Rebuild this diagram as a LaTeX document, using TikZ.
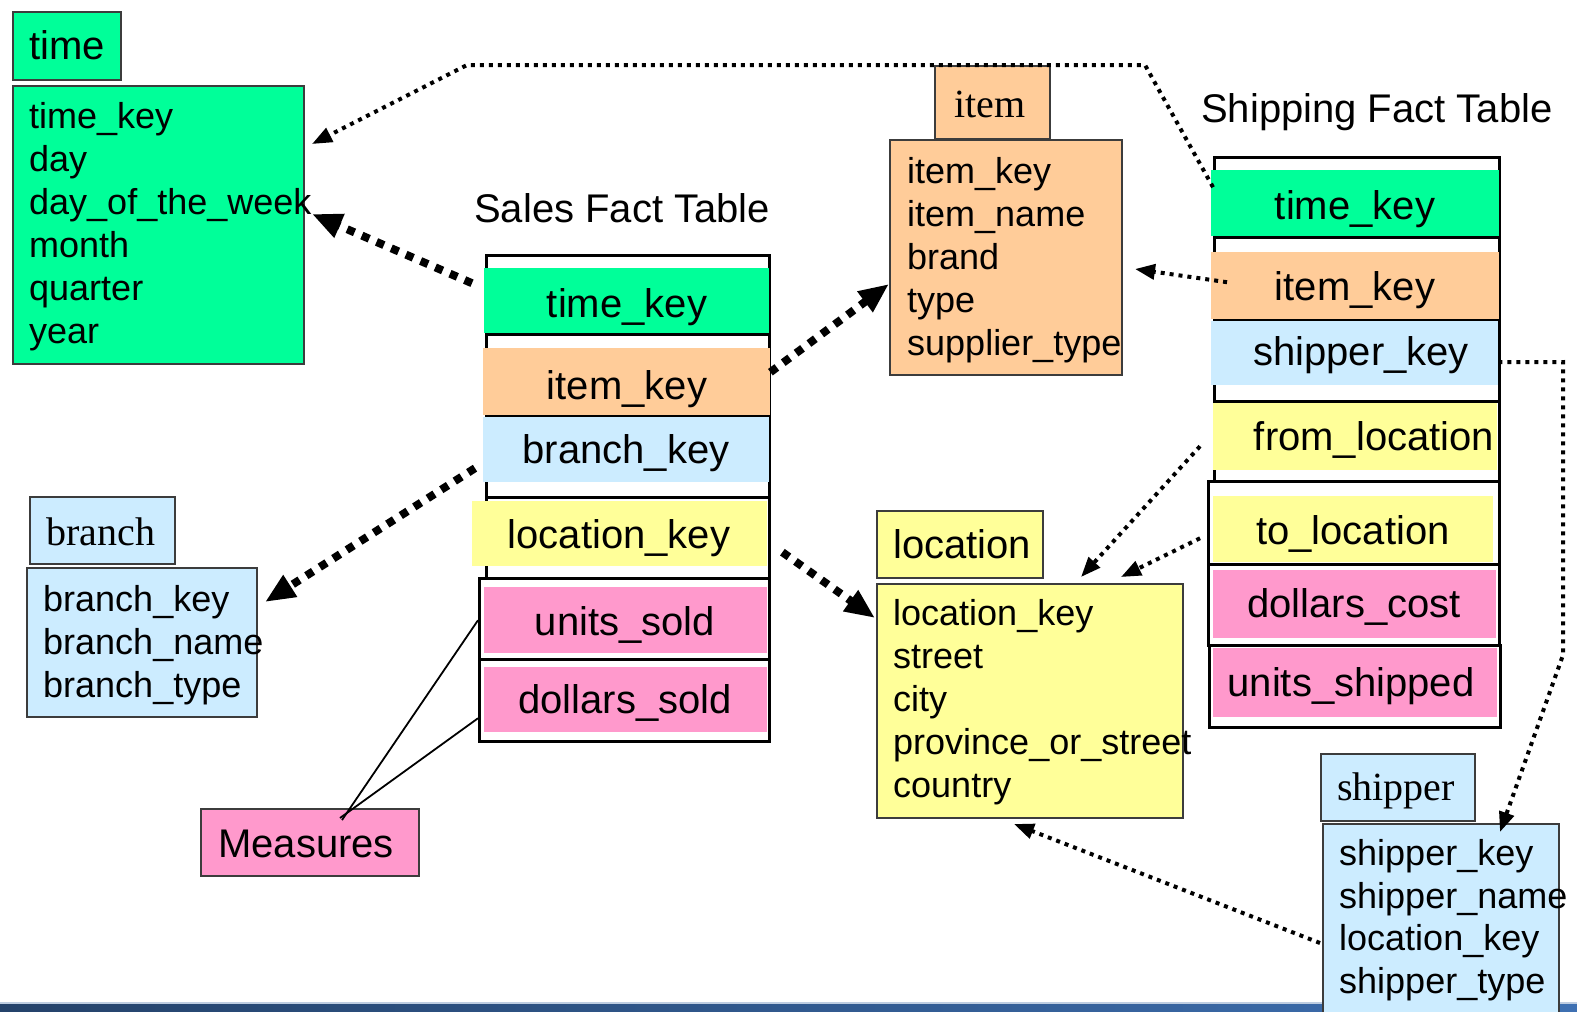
\documentclass[tikz,border=0pt]{standalone}
\usepackage{fontspec}
\setmainfont{Liberation Sans}
\newfontfamily\serifhd{Liberation Serif}
\usetikzlibrary{arrows.meta,calc}
\definecolor{cgreen}{RGB}{0,255,153}
\definecolor{corange}{RGB}{255,204,153}
\definecolor{cblue}{RGB}{204,236,255}
\definecolor{cyellow}{RGB}{255,255,153}
\definecolor{cpink}{RGB}{255,153,204}
\definecolor{boxline}{RGB}{60,60,60}
\definecolor{barL}{RGB}{36,66,106}
\definecolor{barR}{RGB}{62,112,178}
\definecolor{barTop}{RGB}{190,205,225}
\begin{document}
\begin{tikzpicture}[x=1pt,y=-1pt,
  dimbox/.style={draw=boxline,line width=2pt,inner sep=0pt,anchor=north west,rectangle},
  ftbl/.style={draw=black,line width=2.5pt,fill=white,inner sep=0pt,anchor=north west,rectangle},
  fillrow/.style={draw=none,inner sep=0pt,anchor=north west,rectangle},
  lst/.style={anchor=base west,inner sep=0pt,align=left,font=\fontsize{36}{43}\selectfont},
  hd/.style={anchor=base west,inner sep=0pt,font=\fontsize{40}{46}\selectfont},
  shd/.style={anchor=base west,inner sep=0pt,font=\serifhd\fontsize{40}{46}\selectfont},
  fk/.style={anchor=base,inner sep=0pt,font=\fontsize{40}{46}\selectfont},
  ttl/.style={anchor=base west,inner sep=0pt,font=\fontsize{40}{46}\selectfont},
  thindot/.style={line width=4pt,dash pattern=on 4pt off 5pt,-{Triangle[length=20pt,width=15pt]}},
  thickdot/.style={line width=8pt,dash pattern=on 8pt off 8pt,-{Triangle[length=30pt,width=24pt]}},
  measline/.style={line width=1.8pt,draw=black}
]
\useasboundingbox (0,0) rectangle (1577,1012);
\fill[white] (0,0) rectangle (1577,1012);

% bottom bar
\fill[barTop] (0,1002) rectangle (1577,1004);
\shade[left color=barL,right color=barR] (0,1004) rectangle (1577,1012);

% time dimension (list node: base = last line)
\node[dimbox,fill=cgreen,minimum width=108pt,minimum height=68pt] (timeh) at (12,11) {};
\node[hd] (timehT) at (29,59) {time};
\node[dimbox,fill=cgreen,minimum width=291pt,minimum height=278pt] (timeb) at (12,85) {};
\node[lst] (timeL) at (29,343) {time\_key\\day\\day\_of\_the\_week\\month\\quarter\\year};

% item dimension
\node[dimbox,fill=corange,minimum width=115pt,minimum height=73pt] (itemh) at (934,65) {};
\node[shd] (itemhT) at (954,117) {item};
\node[dimbox,fill=corange,minimum width=232pt,minimum height=235pt] (itemb) at (889,139) {};
\node[lst] (itemL) at (907,355) {item\_key\\item\_name\\brand\\type\\supplier\_type};

% location dimension
\node[dimbox,fill=cyellow,minimum width=166pt,minimum height=67pt] (loch) at (876,510) {};
\node[hd] (lochT) at (893,558) {location};
\node[dimbox,fill=cyellow,minimum width=306pt,minimum height=234pt] (locb) at (876,583) {};
\node[lst] (locL) at (893,797) {location\_key\\street\\city\\province\_or\_street\\country};

% branch dimension
\node[dimbox,fill=cblue,minimum width=145pt,minimum height=67pt] (branchh) at (29,496) {};
\node[shd] (branchhT) at (46,545) {branch};
\node[dimbox,fill=cblue,minimum width=230pt,minimum height=149pt] (branchb) at (26,567) {};
\node[lst] (branchL) at (43,697) {branch\_key\\branch\_name\\branch\_type};

% measures
\node[dimbox,fill=cpink,minimum width=218pt,minimum height=67pt] (meas) at (200,808) {};
\node[hd] (measT) at (218,857) {Measures};

% shipper dimension
\node[dimbox,fill=cblue,minimum width=154pt,minimum height=67pt] (shiph) at (1320,753) {};
\node[shd] (shiphT) at (1337,800) {shipper};
\node[dimbox,fill=cblue,minimum width=236pt,minimum height=200pt] (shipb) at (1322,823) {};
\node[lst,font=\fontsize{36}{42.5}\selectfont] (shipL) at (1339,993) {shipper\_key\\shipper\_name\\location\_key\\shipper\_type};

% titles
\node[ttl] (salesT) at (474,222) {Sales Fact Table};
\node[ttl] (shipT) at (1201,122) {Shipping Fact Table};

% sales fact table
\node[ftbl,minimum width=283pt,minimum height=79pt] (sf1) at (485,254) {};
\node[fillrow,fill=cgreen,minimum width=285pt,minimum height=65pt] (st) at (484,268) {};
\node[ftbl,minimum width=283pt,minimum height=82pt] (sf2) at (485,333) {};
\node[fillrow,fill=corange,minimum width=287pt,minimum height=67pt] (si) at (483,348) {};
\node[ftbl,minimum width=283pt,minimum height=81pt] (sf3) at (485,415) {};
\node[fillrow,fill=cblue,minimum width=286pt,minimum height=65pt] (sb) at (483,417) {};
\node[ftbl,minimum width=283pt,minimum height=81pt] (sf4) at (485,496) {};
\node[fillrow,fill=cyellow,minimum width=295pt,minimum height=65pt] (sl) at (472,501) {};
\node[ftbl,minimum width=290pt,minimum height=81pt] (sf5) at (478,577) {};
\node[fillrow,fill=cpink,minimum width=283pt,minimum height=66pt] (su) at (484,587) {};
\node[ftbl,minimum width=290pt,minimum height=82pt] (sf6) at (478,658) {};
\node[fillrow,fill=cpink,minimum width=283pt,minimum height=65pt] (sd) at (484,667) {};
\node[fk] (stT) at (627,317) {time\_key};
\node[fk] (siT) at (627,399) {item\_key};
\node[fk] (sbT) at (626,463) {branch\_key};
\node[fk] (slT) at (619,548) {location\_key};
\node[fk] (suT) at (625,635) {units\_sold};
\node[fk] (sdT) at (625,713) {dollars\_sold};

% shipping fact table
\node[ftbl,minimum width=285pt,minimum height=80pt] (ff1) at (1213,156) {};
\node[fillrow,fill=cgreen,minimum width=288pt,minimum height=66pt] (ft) at (1211,170) {};
\node[ftbl,minimum width=285pt,minimum height=83pt] (ff2) at (1213,236) {};
\node[fillrow,fill=corange,minimum width=288pt,minimum height=67pt] (fo) at (1211,252) {};
\node[ftbl,minimum width=285pt,minimum height=81pt] (ff3) at (1213,319) {};
\node[fillrow,fill=cblue,minimum width=287pt,minimum height=64pt] (fb) at (1211,321) {};
\node[ftbl,minimum width=285pt,minimum height=80pt] (ff4) at (1213,400) {};
\node[fillrow,fill=cyellow,minimum width=284pt,minimum height=67pt] (fy) at (1213,403) {};
\node[ftbl,minimum width=291pt,minimum height=83pt] (ff5) at (1207,480) {};
\node[fillrow,fill=cyellow,minimum width=280pt,minimum height=66pt] (fz) at (1213,496) {};
\node[ftbl,minimum width=291pt,minimum height=81pt] (ff6) at (1207,563) {};
\node[fillrow,fill=cpink,minimum width=283pt,minimum height=68pt] (fc) at (1213,570) {};
\node[ftbl,minimum width=291pt,minimum height=82pt] (ff7) at (1208,644) {};
\node[fillrow,fill=cpink,minimum width=284pt,minimum height=69pt] (fu) at (1213,648) {};
\node[fk] (ftT) at (1355,219) {time\_key};
\node[fk] (foT) at (1355,300) {item\_key};
\node[fk] (fbT) at (1361,365) {shipper\_key};
\node[fk] (fyT) at (1374,450) {from\_location};
\node[fk] (fzT) at (1353,544) {to\_location};
\node[fk] (fcT) at (1354,617) {dollars\_cost};
\node[fk] (fuT) at (1351,696) {units\_shipped};

% measures lines
\draw[measline] ($(meas.north)+(32,12)$) -- ($(sf5.west)+(0,1.5)$);
\draw[measline] ($(meas.north)+(30,10)$) -- ($(sf6.west)+(0,18)$);

% connectors
\coordinate (c1) at (1145,65);
\coordinate (c2) at (467,65);
\coordinate (c3) at (1563,362);
\coordinate (c4) at (1563,655);
\draw[thindot] ($(ft.west)+(2,-16)$) -- (c1) -- (c2) -- ($(timeb.east)+(7,-81)$);
\draw[thickdot] ($(st.west)+(-12,-17.5)$) -- ($(timeb.east)+(7,-11)$);
\draw[thickdot] ($(si.east)+(0,-9.5)$) -- ($(itemb.west)+(0,26.5)$);
\draw[thickdot] ($(sb.west)+(-8,18.5)$) -- ($(branchb.east)+(7,-40.5)$);
\draw[thickdot] ($(sl.east)+(15,18.5)$) -- ($(locb.west)+(-1,-83)$);
\draw[thindot] ($(fo.west)+(16,-3.5)$) -- ($(itemb.east)+(12,11.5)$);
\draw[thindot] ($(fb.east)+(0,9)$) -- (c3) -- (c4) -- ($(shipb.north)+(59,9)$);
\draw[thindot] ($(ff4.west)+(-13,5)$) -- ($(locb.north)+(51,-6)$);
\draw[thindot] ($(ff5.west)+(-7,15.5)$) -- ($(locb.north)+(91,-6)$);
\draw[thindot] ($(shipb.west)+(-2,19)$) -- ($(locb.south)+(-16,5)$);
\end{tikzpicture}
\end{document}
